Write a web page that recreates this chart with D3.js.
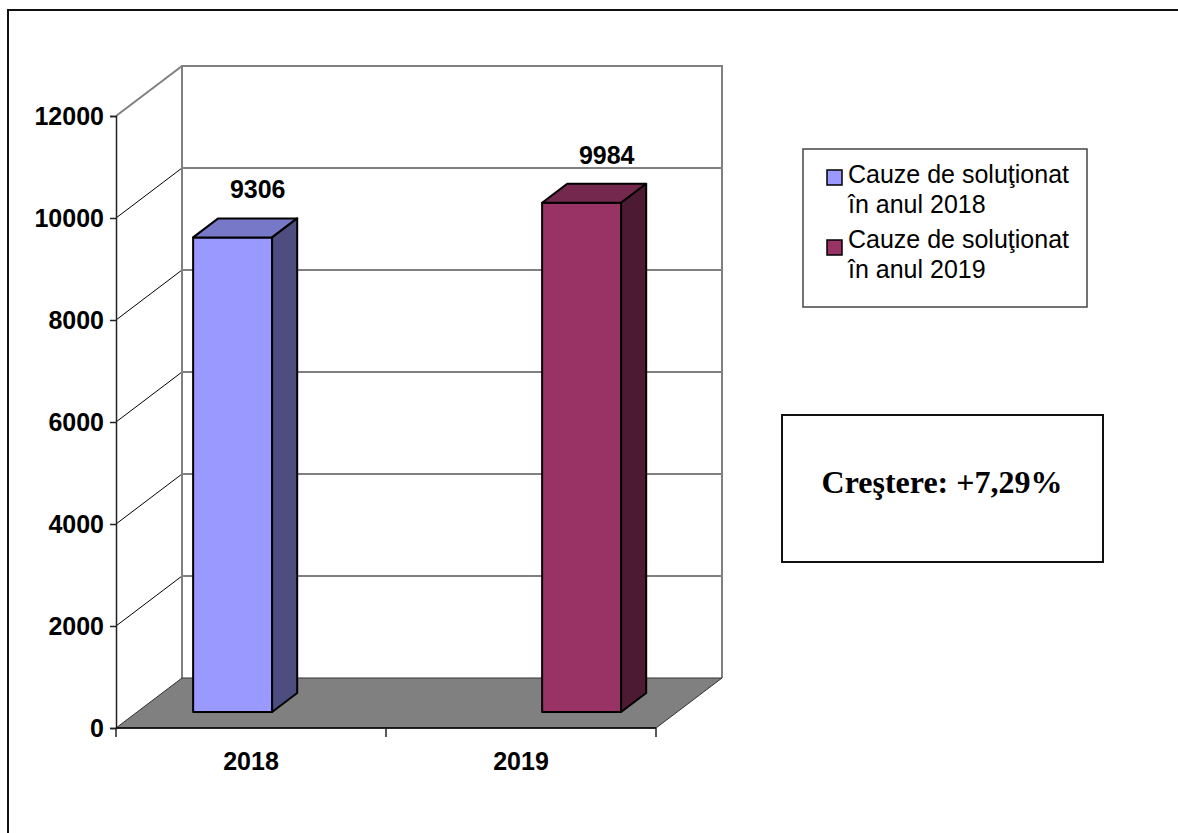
<!DOCTYPE html>
<html>
<head>
<meta charset="utf-8">
<script src="https://cdn.jsdelivr.net/npm/d3@7"></script>
<style>
  html, body { margin: 0; padding: 0; background: #fff; }
  svg { display: block; }
</style>
</head>
<body>
<svg id="chart" width="1178" height="833"></svg>
<script>
const categories = ["2018", "2019"];
const seriesNames = ["Cauze de soluţionat în anul 2018", "Cauze de soluţionat în anul 2019"];
const legendLines = [["Cauze de soluţionat", "în anul 2018"], ["Cauze de soluţionat", "în anul 2019"]];
const series2018 = [9306, null];
const series2019 = [null, 9984];
const yTicks = [0, 2000, 4000, 6000, 8000, 10000, 12000];
const noteText = "Creştere: +7,29%";

const faceColors = [
  { front: "#9999FF", top: "#7878C8", side: "#4D4D80" },
  { front: "#993366", top: "#74284E", side: "#4C1A33" }
];

const svg = d3.select("#chart");

// outer frame
svg.append("rect").attr("x", 8).attr("y", 10).attr("width", 1200).attr("height", 900)
  .attr("fill", "none").attr("stroke", "#111").attr("stroke-width", 2);

const y = d3.scaleLinear().domain([0, 12000]).range([728, 116]);
const x0 = d3.scaleBand().domain(categories).range([116, 656]).padding(0);
const x1 = d3.scaleBand().domain(seriesNames).range([0, x0.bandwidth()]).paddingInner(0).paddingOuter(0.709);

const D = { x: 66, y: -50 };      // full depth
const tFront = 0.32, tBack = 0.70;
const off = t => ({ x: D.x * t, y: D.y * t });
const xl = x0.range()[0], xr = x0.range()[1];
const boldFont = "Liberation Sans, Arial, sans-serif";

const wall = svg.append("g");
yTicks.forEach(v => {
  const yy = y(v);
  if (v !== 0) {
    wall.append("line").attr("x1", xl).attr("y1", yy).attr("x2", xl + D.x).attr("y2", yy + D.y)
      .attr("stroke", v === 12000 ? "#808080" : "#000").attr("stroke-width", v === 12000 ? 2 : 1);
  }
  if (v !== 0 && v !== 12000) {
    wall.append("line").attr("x1", xl + D.x).attr("y1", yy + D.y).attr("x2", xr + D.x).attr("y2", yy + D.y)
      .attr("stroke", "#000").attr("stroke-width", 1);
  }
});
wall.append("path")
  .attr("d", `M${xl + D.x},${y(0) + D.y}V${y(12000) + D.y}H${xr + D.x}V${y(0) + D.y}`)
  .attr("fill", "none").attr("stroke", "#808080").attr("stroke-width", 2);

// floor
svg.append("path")
  .attr("d", `M${xl},${y(0)}H${xr}L${xr + D.x},${y(0) + D.y}H${xl + D.x}Z`)
  .attr("fill", "#808080").attr("stroke", "#333").attr("stroke-width", 1);

// axes
const yAxis = d3.axisLeft(y).tickValues(yTicks).tickSize(6).tickPadding(6).tickFormat(d3.format("d"));
const gy = svg.append("g").attr("transform", `translate(${xl},0)`).call(yAxis);
gy.select(".domain").attr("stroke", "#222").attr("stroke-width", 1.5);
gy.selectAll(".tick line").attr("stroke", "#222").attr("stroke-width", 1.5);
gy.selectAll(".tick text").attr("font-family", boldFont)
  .attr("font-size", 25).attr("font-weight", "bold").attr("fill", "#000");

const xAxis = d3.axisBottom(x0).tickSize(0).tickPadding(24);
const gx = svg.append("g").attr("transform", `translate(0,${y(0)})`).call(xAxis);
gx.select(".domain").remove();
gx.append("line").attr("x1", xl).attr("x2", xr).attr("y1", 0).attr("y2", 0).attr("stroke", "#000").attr("stroke-width", 1.5);
[xl, ...categories.map(c => x0(c) + x0.bandwidth())].forEach(px => {
  gx.append("line").attr("x1", px).attr("x2", px).attr("y1", 0).attr("y2", 9).attr("stroke", "#222").attr("stroke-width", 1.5);
});
gx.selectAll(".tick text").attr("font-family", boldFont)
  .attr("font-size", 25).attr("font-weight", "bold").attr("fill", "#000");

// bars
const allSeries = [series2018, series2019];
const bars = svg.append("g");
const labels = svg.append("g");
allSeries.forEach((vals, si) => {
  vals.forEach((v, ci) => {
    if (v == null) return;
    const bx = x0(categories[ci]) + x1(seriesNames[si]);
    const bw = x1.bandwidth();
    const f = off(tFront), b = off(tBack);
    const yb = y(0), yt = y(v);
    const c = faceColors[si];
    const poly = (pts, fill) => bars.append("polygon")
      .attr("points", pts.map(q => q.join(",")).join(" ")).attr("fill", fill)
      .attr("stroke", "#000").attr("stroke-width", 2).attr("stroke-linejoin", "round");
    poly([[bx + f.x, yt + f.y], [bx + bw + f.x, yt + f.y], [bx + bw + f.x, yb + f.y], [bx + f.x, yb + f.y]], c.front);
    poly([[bx + f.x, yt + f.y], [bx + bw + f.x, yt + f.y], [bx + bw + b.x, yt + b.y], [bx + b.x, yt + b.y]], c.top);
    poly([[bx + bw + f.x, yt + f.y], [bx + bw + b.x, yt + b.y], [bx + bw + b.x, yb + b.y], [bx + bw + f.x, yb + f.y]], c.side);
    labels.append("text")
      .attr("x", bx + bw / 2 + b.x)
      .attr("y", yt + b.y - 20)
      .attr("text-anchor", "middle")
      .attr("font-family", boldFont)
      .attr("font-size", 25).attr("font-weight", "bold").attr("fill", "#000")
      .text(d3.format("d")(v));
  });
});

// legend
const lg = svg.append("g");
lg.append("rect").attr("x", 803).attr("y", 149).attr("width", 284).attr("height", 158)
  .attr("fill", "#fff").attr("stroke", "#444").attr("stroke-width", 1.5);
legendLines.forEach((lines, i) => {
  const top = 170 + i * 70;
  lg.append("rect").attr("x", 827).attr("y", top).attr("width", 15).attr("height", 15)
    .attr("fill", faceColors[i].front).attr("stroke", "#000").attr("stroke-width", 1.5);
  lines.forEach((ln, j) => {
    lg.append("text").attr("x", 848).attr("y", 183 + i * 65 + j * 30)
      .attr("font-family", "Liberation Sans, Arial, sans-serif").attr("font-size", 25).attr("fill", "#000")
      .text(ln);
  });
});

// note box
const nb = svg.append("g");
nb.append("rect").attr("x", 782).attr("y", 415).attr("width", 321).attr("height", 147)
  .attr("fill", "#fff").attr("stroke", "#111").attr("stroke-width", 2);
nb.append("text").attr("x", 942).attr("y", 493).attr("text-anchor", "middle")
  .attr("font-family", "Liberation Serif, Times New Roman, serif").attr("font-size", 32).attr("font-weight", "bold")
  .attr("fill", "#000").text(noteText);
</script>
</body>
</html>
